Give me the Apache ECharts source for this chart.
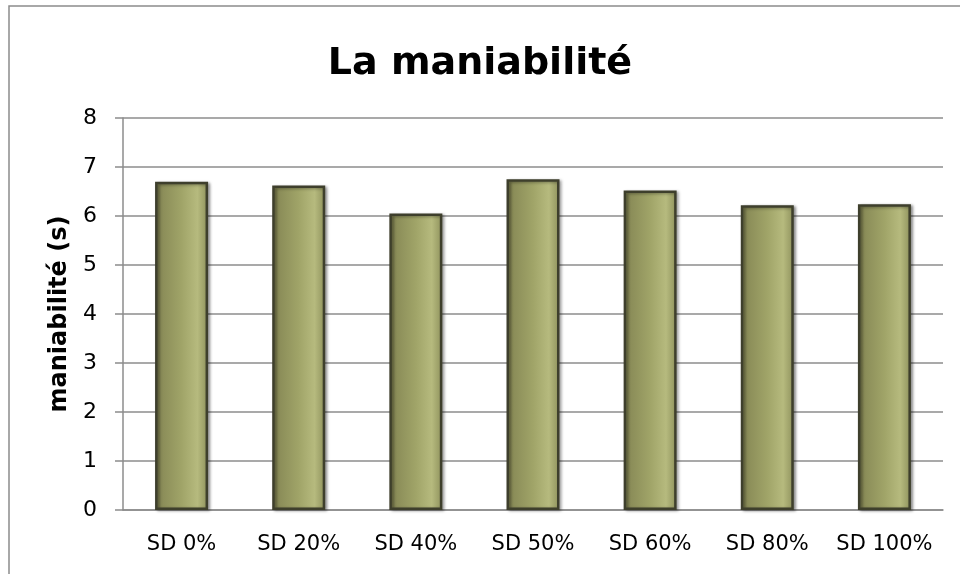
<!DOCTYPE html>
<html>
<head>
<meta charset="utf-8">
<script src="https://cdn.jsdelivr.net/npm/echarts@6/dist/echarts.min.js"></script>
<style>
  html, body { margin: 0; padding: 0; background: #fff; }
  #chart { width: 960px; height: 574px; }
</style>
</head>
<body>
<div id="chart"></div>
<script>
// données
const categories = ['SD 0%', 'SD 20%', 'SD 40%', 'SD 50%', 'SD 60%', 'SD 80%', 'SD 100%'];
const maniabilite = [6.7, 6.62, 6.05, 6.75, 6.52, 6.22, 6.24];
const yTicks = { min: 0, max: 8, interval: 1 };

const chart = echarts.init(document.getElementById('chart'));
const font = 'DejaVu Sans';

// dégradé olive pour imiter le relief des barres
const barFill = new echarts.graphic.LinearGradient(0, 0, 1, 0, [
  { offset: 0, color: '#6f7044' },
  { offset: 0.12, color: '#8a8c58' },
  { offset: 0.5, color: '#a0a468' },
  { offset: 0.8, color: '#b6ba7e' },
  { offset: 1, color: '#8e915c' }
]);

chart.setOption({
  backgroundColor: '#fff',
  animation: false,
  graphic: [{
    type: 'rect',
    shape: { x: 9, y: 6, width: 1000, height: 600 },
    style: { fill: 'none', stroke: '#8c8c8c', lineWidth: 1.5 },
    silent: true
  }],
  title: {
    text: 'La maniabilité',
    left: 'center',
    top: 40,
    textStyle: { fontFamily: font, fontWeight: 'bold', fontSize: 38, color: '#000' }
  },
  grid: { left: 123, right: 17, top: 118, bottom: 64 },
  xAxis: {
    type: 'category',
    data: categories,
    axisLine: { lineStyle: { color: '#8c8c8c', width: 1.5 } },
    axisTick: { show: false },
    axisLabel: { interval: 0, margin: 24, fontFamily: font, fontSize: 21, color: '#000' }
  },
  yAxis: {
    type: 'value',
    min: yTicks.min,
    max: yTicks.max,
    interval: yTicks.interval,
    name: 'maniabilité (s)',
    nameLocation: 'middle',
    nameGap: 48,
    nameTextStyle: { fontFamily: font, fontWeight: 'bold', fontSize: 24, color: '#000' },
    axisLine: { show: true, lineStyle: { color: '#8c8c8c', width: 1.5 } },
    axisTick: { show: true, length: 8, lineStyle: { color: '#8c8c8c', width: 1.5 } },
    splitLine: { lineStyle: { color: '#8c8c8c', width: 1.5 } },
    axisLabel: { margin: 26, fontFamily: font, fontSize: 22, color: '#000' }
  },
  series: [{
    type: 'bar',
    data: maniabilite,
    barWidth: 53,
    itemStyle: {
      color: barFill,
      borderColor: '#3e3f2c',
      borderWidth: 2.5,
      shadowColor: 'rgba(0,0,0,0.35)',
      shadowBlur: 3,
      shadowOffsetX: 2,
      shadowOffsetY: 1
    }
  }]
});
</script>
</body>
</html>
